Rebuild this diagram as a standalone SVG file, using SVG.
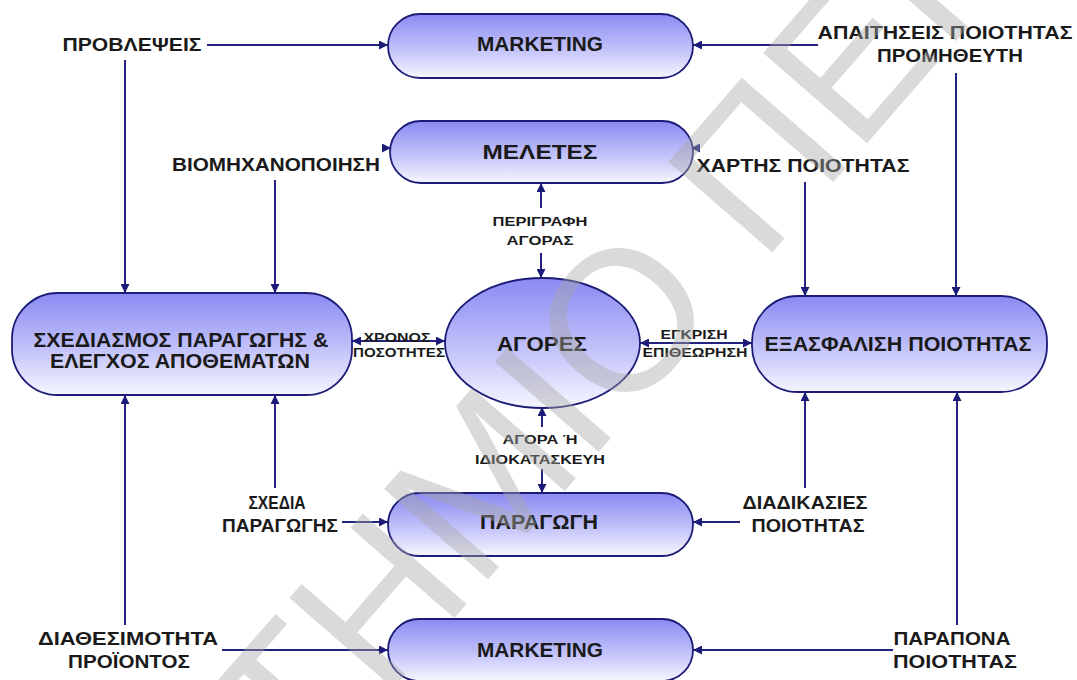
<svg xmlns="http://www.w3.org/2000/svg" width="1077" height="680" viewBox="0 0 1077 680">
  <defs>
    <linearGradient id="fillGrad" x1="0" y1="0" x2="0" y2="1">
      <stop offset="0" stop-color="#8a8af2"/>
      <stop offset="0.55" stop-color="#c2c2fa"/>
      <stop offset="1" stop-color="#f6f6ff"/>
    </linearGradient>
    <marker id="arrow" viewBox="0 0 10 10" refX="10" refY="5" markerWidth="9" markerHeight="9" markerUnits="userSpaceOnUse" orient="auto-start-reverse">
      <path d="M0,0 L10,5 L0,10 z" fill="#1c1c78"/>
    </marker>
  </defs>
  <style>
    .node { fill: url(#fillGrad); stroke: #1c1c78; stroke-width: 1.8; }
    .conn { fill: none; stroke: #23237e; stroke-width: 2; }
    .nl { font-family: "Liberation Sans", Arial, sans-serif; font-weight: bold; font-size: 20px; fill: #1a1a1a; text-anchor: middle; }
    .ol { font-family: "Liberation Sans", Arial, sans-serif; font-weight: bold; font-size: 18px; fill: #1a1a1a; text-anchor: middle; }
    .sl { font-family: "Liberation Sans", Arial, sans-serif; font-weight: bold; font-size: 12.5px; fill: #1a1a1a; text-anchor: middle; }
    .wm { font-family: "Liberation Sans", Arial, sans-serif; font-size: 200px; fill: #a8a8a8; fill-opacity: 0.42; }
  </style>
  <rect width="1077" height="680" fill="#ffffff"/>

  <!-- connectors -->
  <g id="connectors">
    <path class="conn" d="M207,45 H388" marker-end="url(#arrow)"/>
    <path class="conn" d="M818,45 H693" marker-end="url(#arrow)"/>
    <path class="conn" d="M125,60 V293" marker-end="url(#arrow)"/>
    <path class="conn" d="M956,73 V296" marker-end="url(#arrow)"/>
    <path class="conn" d="M383,148 H391" marker-end="url(#arrow)"/>
    <path class="conn" d="M275,180 V293" marker-end="url(#arrow)"/>
    <path class="conn" d="M698,148 H691" marker-end="url(#arrow)"/>
    <path class="conn" d="M805,182 V296" marker-end="url(#arrow)"/>
    <path class="conn" d="M541,208 V183" marker-end="url(#arrow)"/>
    <path class="conn" d="M541,253 V278" marker-end="url(#arrow)"/>
    <path class="conn" d="M352,341 H445" marker-start="url(#arrow)" marker-end="url(#arrow)"/>
    <path class="conn" d="M640,343 H752" marker-start="url(#arrow)" marker-end="url(#arrow)"/>
    <path class="conn" d="M542,427 V407" marker-end="url(#arrow)"/>
    <path class="conn" d="M542,469 V493" marker-end="url(#arrow)"/>
    <path class="conn" d="M342,522 H388" marker-end="url(#arrow)"/>
    <path class="conn" d="M275,488 V395" marker-end="url(#arrow)"/>
    <path class="conn" d="M740,522 H693" marker-end="url(#arrow)"/>
    <path class="conn" d="M805,488 V392" marker-end="url(#arrow)"/>
    <path class="conn" d="M222,650 H388" marker-end="url(#arrow)"/>
    <path class="conn" d="M125,625 V395" marker-end="url(#arrow)"/>
    <path class="conn" d="M893,650 H693" marker-end="url(#arrow)"/>
    <path class="conn" d="M957,625 V392" marker-end="url(#arrow)"/>
  </g>

  <!-- connector labels -->
  <g id="labels">
    <text class="ol" x="132" y="51" textLength="139" lengthAdjust="spacingAndGlyphs">ΠΡΟΒΛΕΨΕΙΣ</text>
    <text class="ol" x="945" y="39" textLength="255" lengthAdjust="spacingAndGlyphs">ΑΠΑΙΤΗΣΕΙΣ ΠΟΙΟΤΗΤΑΣ</text>
    <text class="ol" x="950" y="62" textLength="146" lengthAdjust="spacingAndGlyphs">ΠΡΟΜΗΘΕΥΤΗ</text>
    <text class="ol" x="276" y="171" textLength="208" lengthAdjust="spacingAndGlyphs">ΒΙΟΜΗΧΑΝΟΠΟΙΗΣΗ</text>
    <text class="ol" x="803" y="172" textLength="213" lengthAdjust="spacingAndGlyphs">ΧΑΡΤΗΣ ΠΟΙΟΤΗΤΑΣ</text>
    <text class="sl" x="540" y="226" textLength="95" lengthAdjust="spacingAndGlyphs">ΠΕΡΙΓΡΑΦΗ</text>
    <text class="sl" x="540" y="245" textLength="67" lengthAdjust="spacingAndGlyphs">ΑΓΟΡΑΣ</text>
    <text class="sl" x="397" y="342" textLength="67" lengthAdjust="spacingAndGlyphs">ΧΡΟΝΟΣ</text>
    <text class="sl" x="399" y="357" textLength="92" lengthAdjust="spacingAndGlyphs">ΠΟΣΟΤΗΤΕΣ</text>
    <text class="sl" x="694" y="339" textLength="67" lengthAdjust="spacingAndGlyphs">ΕΓΚΡΙΣΗ</text>
    <text class="sl" x="695" y="357" textLength="105" lengthAdjust="spacingAndGlyphs">ΕΠΙΘΕΩΡΗΣΗ</text>
    <text class="sl" x="540" y="444" textLength="75" lengthAdjust="spacingAndGlyphs">ΑΓΟΡΑ Ή</text>
    <text class="sl" x="540" y="464" textLength="130" lengthAdjust="spacingAndGlyphs">ΙΔΙΟΚΑΤΑΣΚΕΥΗ</text>
    <text class="ol" x="277" y="509" textLength="57" lengthAdjust="spacingAndGlyphs">ΣΧΕΔΙΑ</text>
    <text class="ol" x="280" y="532" textLength="116" lengthAdjust="spacingAndGlyphs">ΠΑΡΑΓΩΓΗΣ</text>
    <text class="ol" x="805" y="509" textLength="125" lengthAdjust="spacingAndGlyphs">ΔΙΑΔΙΚΑΣΙΕΣ</text>
    <text class="ol" x="808" y="532" textLength="113" lengthAdjust="spacingAndGlyphs">ΠΟΙΟΤΗΤΑΣ</text>
    <text class="ol" x="128" y="645" textLength="180" lengthAdjust="spacingAndGlyphs">ΔΙΑΘΕΣΙΜΟΤΗΤΑ</text>
    <text class="ol" x="129" y="668" textLength="122" lengthAdjust="spacingAndGlyphs">ΠΡΟΪΟΝΤΟΣ</text>
    <text class="ol" x="952" y="645" textLength="117" lengthAdjust="spacingAndGlyphs">ΠΑΡΑΠΟΝΑ</text>
    <text class="ol" x="955" y="668" textLength="124" lengthAdjust="spacingAndGlyphs">ΠΟΙΟΤΗΤΑΣ</text>
  </g>

  <!-- nodes -->
  <g id="marketing-top">
    <rect class="node" x="388" y="14" width="305" height="64" rx="32"/>
    <text class="nl" x="540" y="51" textLength="126" lengthAdjust="spacingAndGlyphs">MARKETING</text>
  </g>
  <g id="meletes">
    <rect class="node" x="390" y="121" width="303" height="62" rx="31"/>
    <text class="nl" x="540" y="159" textLength="115" lengthAdjust="spacingAndGlyphs">ΜΕΛΕΤΕΣ</text>
  </g>
  <g id="agores">
    <ellipse class="node" cx="542.5" cy="343" rx="97.5" ry="65"/>
    <text class="nl" x="542" y="351" textLength="90" lengthAdjust="spacingAndGlyphs">ΑΓΟΡΕΣ</text>
  </g>
  <g id="sxediasmos">
    <rect class="node" x="12" y="293" width="340" height="102" rx="46"/>
    <text class="nl" x="181" y="347" textLength="295" lengthAdjust="spacingAndGlyphs">ΣΧΕΔΙΑΣΜΟΣ ΠΑΡΑΓΩΓΗΣ &amp;</text>
    <text class="nl" x="180" y="368" textLength="260" lengthAdjust="spacingAndGlyphs">ΕΛΕΓΧΟΣ ΑΠΟΘΕΜΑΤΩΝ</text>
  </g>
  <g id="exasfalisi">
    <rect class="node" x="752" y="296" width="295" height="96" rx="46"/>
    <text class="nl" x="898" y="351" textLength="267" lengthAdjust="spacingAndGlyphs">ΕΞΑΣΦΑΛΙΣΗ ΠΟΙΟΤΗΤΑΣ</text>
  </g>
  <g id="paragogi">
    <rect class="node" x="388" y="493" width="305" height="63" rx="31.5"/>
    <text class="nl" x="539" y="529" textLength="118" lengthAdjust="spacingAndGlyphs">ΠΑΡΑΓΩΓΗ</text>
  </g>
  <g id="marketing-bottom">
    <rect class="node" x="388" y="619" width="305" height="62" rx="31"/>
    <text class="nl" x="540" y="657" textLength="126" lengthAdjust="spacingAndGlyphs">MARKETING</text>
  </g>

  <!-- diagonal watermark lettering laid over the sheet -->
  <g id="watermark" transform="translate(623,424) rotate(-49)">
    <text class="wm" x="0" y="0" text-anchor="end">ΣΤΗΜΙ</text>
    <text class="wm" x="0" y="0">Ο ΠΕΙ</text>
  </g>
</svg>
